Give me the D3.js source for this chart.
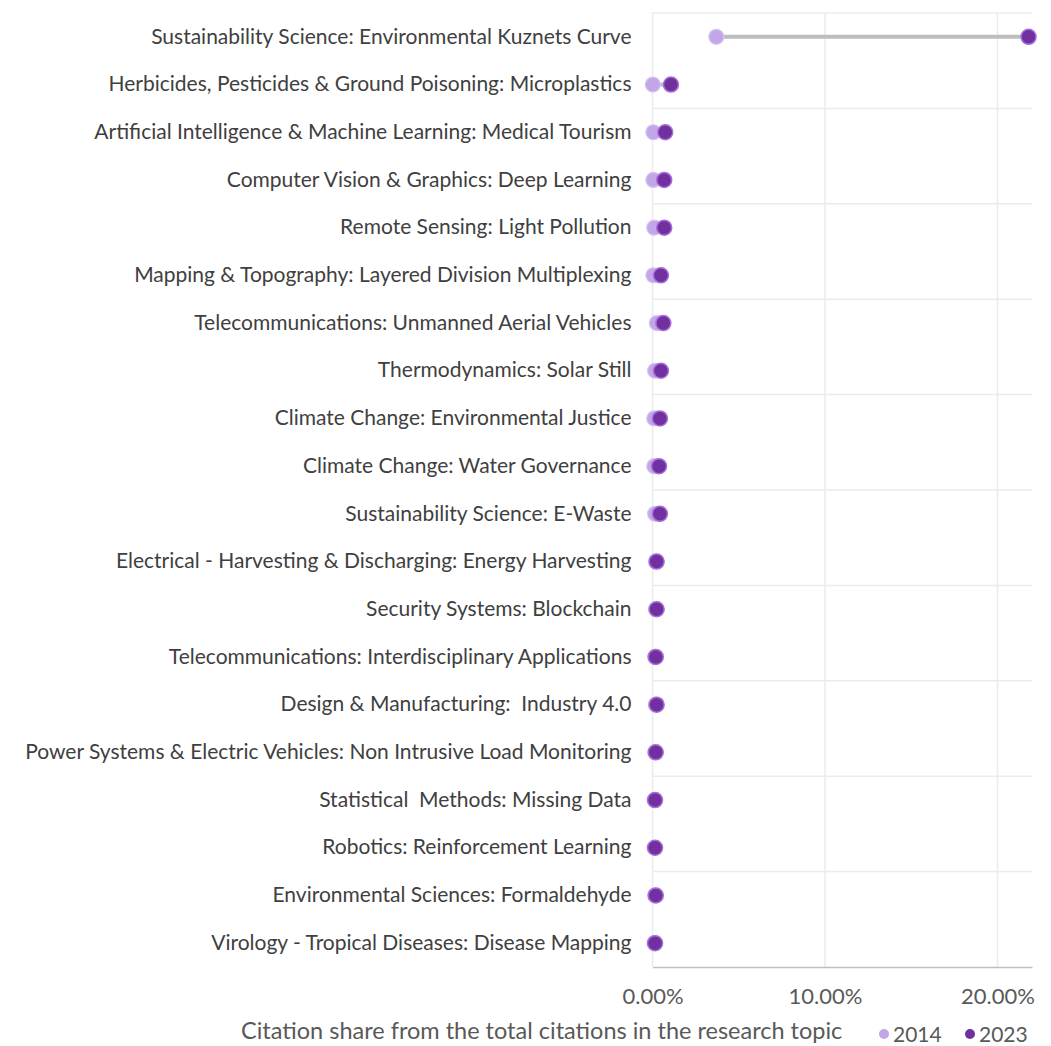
<!DOCTYPE html>
<html>
<head>
<meta charset="utf-8">
<script src="https://cdn.jsdelivr.net/npm/d3@7"></script>
<style>
  body { margin: 0; background: #fff; }
  text { font-family: Lato, "Open Sans", sans-serif; }
</style>
</head>
<body>
<div id="chart"></div>
<script>
var svgWidth = 1051;
var svgHeight = 1046;

var margin = { top: 13, right: 19, bottom: 79, left: 652.5 };
var width = svgWidth - margin.left - margin.right;
var height = svgHeight - margin.top - margin.bottom;

// Data
var topics = [
  "Sustainability Science: Environmental Kuznets Curve",
  "Herbicides, Pesticides & Ground Poisoning: Microplastics",
  "Artificial Intelligence & Machine Learning: Medical Tourism",
  "Computer Vision & Graphics: Deep Learning",
  "Remote Sensing: Light Pollution",
  "Mapping & Topography: Layered Division Multiplexing",
  "Telecommunications: Unmanned Aerial Vehicles",
  "Thermodynamics: Solar Still",
  "Climate Change: Environmental Justice",
  "Climate Change: Water Governance",
  "Sustainability Science: E-Waste",
  "Electrical - Harvesting & Discharging: Energy Harvesting",
  "Security Systems: Blockchain",
  "Telecommunications: Interdisciplinary Applications",
  "Design & Manufacturing:  Industry 4.0",
  "Power Systems & Electric Vehicles: Non Intrusive Load Monitoring",
  "Statistical  Methods: Missing Data",
  "Robotics: Reinforcement Learning",
  "Environmental Sciences: Formaldehyde",
  "Virology - Tropical Diseases: Disease Mapping"
];
var share2014 = [3.7, 0.02, 0.05, 0.05, 0.1, 0.05, 0.25, 0.15, 0.1, 0.1, 0.15, 0.2, 0.2, 0.15, 0.2, 0.15, 0.12, 0.12, 0.15, 0.12];
var share2023 = [21.8, 1.07, 0.74, 0.68, 0.68, 0.49, 0.63, 0.49, 0.43, 0.38, 0.43, 0.24, 0.24, 0.19, 0.24, 0.19, 0.15, 0.15, 0.19, 0.15];
var xTicks = [0, 10, 20];
var seriesNames = ["2014", "2023"];
var seriesColors = ["#c1a6e8", "#7030a0"];

var rows = topics.map(function(t, i) {
  return { topic: t, v2014: share2014[i], v2023: share2023[i] };
});

var svg = d3.select("#chart")
  .append("svg")
  .attr("width", svgWidth)
  .attr("height", svgHeight);

var chartGroup = svg.append("g")
  .attr("transform", `translate(${margin.left}, ${margin.top})`);

// Scales
var xScale = d3.scaleLinear()
  .domain([0, 22])
  .range([0, width]);

var yScale = d3.scaleBand()
  .domain(topics)
  .range([0, height]);

// Gridlines
chartGroup.selectAll(".vgrid")
  .data(xTicks)
  .enter()
  .append("line")
  .attr("x1", d => xScale(d))
  .attr("x2", d => xScale(d))
  .attr("y1", 0)
  .attr("y2", height)
  .attr("stroke", "#ebebeb")
  .attr("stroke-width", 1.5);

var hLines = d3.range(0, topics.length, 2);
chartGroup.selectAll(".hgrid")
  .data(hLines)
  .enter()
  .append("line")
  .attr("x1", 0)
  .attr("x2", width)
  .attr("y1", d => yScale(topics[d]))
  .attr("y2", d => yScale(topics[d]))
  .attr("stroke", "#ebebeb")
  .attr("stroke-width", 1.5);

// Bottom axis
var bottomAxis = d3.axisBottom(xScale)
  .tickValues(xTicks)
  .tickSize(0)
  .tickPadding(21)
  .tickFormat(d => d.toFixed(2) + "%");

var xAxis = chartGroup.append("g")
  .attr("transform", `translate(0, ${height})`)
  .call(bottomAxis);
xAxis.select(".domain").attr("stroke", "#bfbfbf").attr("stroke-width", 1.5);
xAxis.selectAll("text")
  .attr("font-size", "22px")
  .attr("fill", "#595959");

// Left labels
var leftAxis = d3.axisLeft(yScale).tickSize(0).tickPadding(21);
var yAxis = chartGroup.append("g").call(leftAxis);
yAxis.select(".domain").remove();
yAxis.selectAll("text")
  .attr("font-size", "21px")
  .attr("fill", "#404040")
  .style("white-space", "pre")
  .attr("xml:space", "preserve");

// Connectors
chartGroup.selectAll(".conn")
  .data(rows)
  .enter()
  .append("line")
  .attr("x1", d => xScale(d.v2014))
  .attr("x2", d => xScale(d.v2023))
  .attr("y1", d => yScale(d.topic) + yScale.bandwidth() / 2)
  .attr("y2", d => yScale(d.topic) + yScale.bandwidth() / 2)
  .attr("stroke", "#bdbdbd")
  .attr("stroke-width", 4);

// Dots
chartGroup.selectAll(".dot2014")
  .data(rows)
  .enter()
  .append("circle")
  .attr("cx", d => xScale(d.v2014))
  .attr("cy", d => yScale(d.topic) + yScale.bandwidth() / 2)
  .attr("r", 7.5)
  .attr("fill", seriesColors[0])
  .attr("stroke", "#d6c4f2")
  .attr("stroke-width", 1.2);

chartGroup.selectAll(".dot2023")
  .data(rows)
  .enter()
  .append("circle")
  .attr("cx", d => xScale(d.v2023))
  .attr("cy", d => yScale(d.topic) + yScale.bandwidth() / 2)
  .attr("r", 7.5)
  .attr("fill", seriesColors[1])
  .attr("stroke", "#a76fd8")
  .attr("stroke-width", 1.5);

// Axis title
svg.append("text")
  .attr("x", 241)
  .attr("y", 1039)
  .attr("font-size", "23.5px")
  .attr("fill", "#595959")
  .text("Citation share from the total citations in the research topic");

// Legend
var legendX = [884, 970];
var legend = svg.selectAll(".legend")
  .data(seriesNames)
  .enter()
  .append("g")
  .attr("transform", (d, i) => `translate(${legendX[i]}, 1034)`);
legend.append("circle")
  .attr("r", 5)
  .attr("fill", (d, i) => seriesColors[i]);
legend.append("text")
  .attr("x", 9)
  .attr("y", 7.5)
  .attr("font-size", "21px")
  .attr("fill", "#595959")
  .text(d => d);
</script>
</body>
</html>
